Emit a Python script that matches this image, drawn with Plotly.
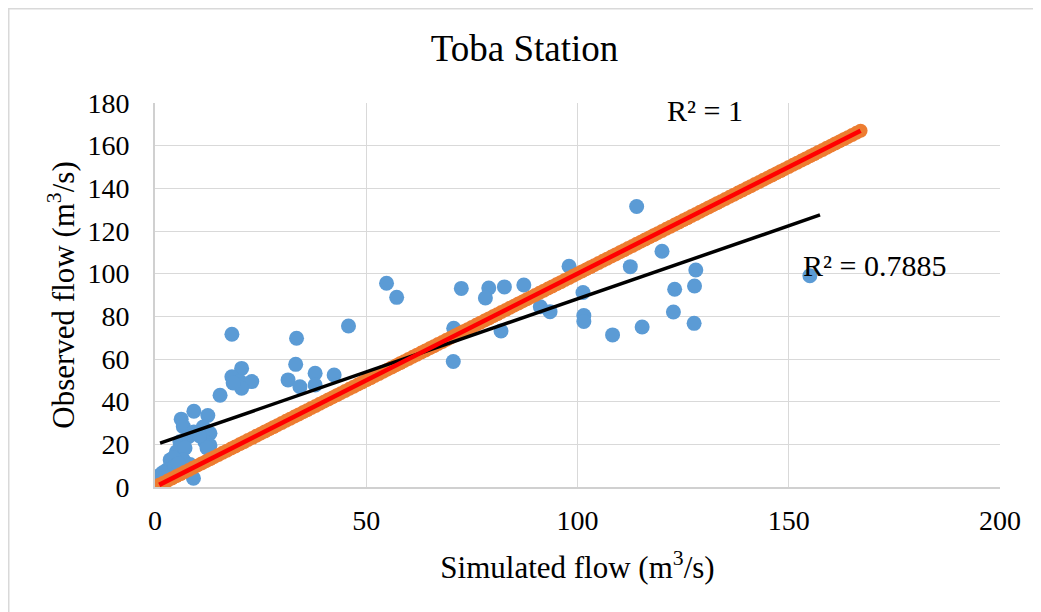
import plotly.graph_objects as go

# Simulated (x) vs observed (y) flows, m3/s
sim_flow = [155, 114, 120, 112.5, 98, 128, 123, 127.7, 101.3, 122.7,
            101.5, 101.5, 115.3, 127.6, 108.3, 93.5, 91.2, 72.5, 79, 78.2,
            82.7, 87.3, 81.9, 70.7, 70.6, 54.8, 57.2, 45.8, 33.5, 33.3,
            31.5, 34.3, 37.9, 37.9, 42.4, 18.2, 20.5, 18.2, 20.1, 22.9,
            20.5, 18.5, 15.4, 6.2, 9.2, 12.5, 13, 11.8, 13, 12.3,
            6.7, 7.9, 9.2, 11.4, 5.9, 5.1, 7.1, 6.7, 3.6, 4.3,
            2.8, 1.2, 1.9, 8.3, 4.7, 9.1, 2.4, 5.5, 10.5]
obs_flow = [99, 131.5, 110.5, 103.3, 103.5, 101.7, 92.7, 94.2, 91.2, 82,
            80.4, 77.6, 75, 76.7, 71.3, 82.2, 84.5, 93.1, 93.3, 88.6,
            93.8, 94.7, 73.1, 74.4, 58.8, 95.5, 88.9, 75.5, 69.7, 57.5,
            50.2, 47, 53.3, 47.8, 52.5, 71.6, 55.6, 51.7, 49.4, 49.4,
            46.3, 48.8, 43, 31.8, 35.5, 33.5, 25.2, 21.2, 19.5, 18.3,
            28.3, 23.6, 25.8, 28.1, 21.2, 16.5, 18.3, 12.7, 12.7, 13.6,
            8, 5.6, 6.8, 10.5, 9.8, 4.1, 4.2, 11, 24]

# 1:1 reference series (observed vs observed)
ref_flow = [1, 2, 3, 4, 5, 6, 7, 8, 9, 10, 11, 12, 13, 14, 15, 16, 17, 18, 19, 20,
            21, 22, 23, 24, 25, 26, 27, 28, 29, 30, 31, 32, 33, 34, 35, 36, 37, 38, 39, 40,
            41, 42, 43, 44, 45, 46, 47, 48, 49, 50, 51, 52, 53, 54, 55, 56, 57, 58, 59, 60,
            61, 62, 63, 64, 65, 66, 67, 68, 69, 70, 71, 72, 73, 74, 75, 76, 77, 78, 79, 80,
            81, 82, 83, 84, 85, 86, 87, 88, 89, 90, 91, 92, 93, 94, 95, 96, 97, 98, 99, 100,
            101, 102, 103, 104, 105, 106, 107, 108, 109, 110, 111, 112, 113, 114, 115, 116,
            117, 118, 119, 120, 121, 122, 123, 124, 125, 126, 127, 128, 129, 130, 131, 132,
            133, 134, 135, 136, 137, 138, 139, 140, 141, 142, 143, 144, 145, 146, 147, 148,
            149, 150, 151, 152, 153, 154, 155, 156, 157, 158, 159, 160, 161, 162, 163, 164,
            165, 166, 167]

# Linear trendline coefficients
trend_slope = 0.685
trend_intercept = 19.7
trend_x_end = 157.4
ref_slope = 1.0
ref_intercept = 0.0

x_ticks = [0, 50, 100, 150, 200]
y_ticks = [0, 20, 40, 60, 80, 100, 120, 140, 160, 180]

FONT = "Liberation Serif"

W, H = 1033, 604
L, R, T, B = 147, 41, 95, 125
PW, PH = W - L - R, H - T - B

fig = go.Figure()
fig.add_trace(go.Scatter(x=sim_flow, y=obs_flow, mode="markers",
                         marker=dict(color="#5B9BD5", size=15, line=dict(width=0)),
                         showlegend=False, hoverinfo="x+y"))
fig.add_trace(go.Scatter(x=ref_flow, y=ref_flow, mode="markers",
                         marker=dict(color="#ED7D31", size=14, line=dict(width=0)),
                         showlegend=False, hoverinfo="x+y"))

tx0 = min(sim_flow)
tx = [tx0, trend_x_end]
fig.add_trace(go.Scatter(x=tx, y=[trend_slope * v + trend_intercept for v in tx],
                         mode="lines", line=dict(color="black", width=3.5),
                         showlegend=False, hoverinfo="skip"))
rx = [min(ref_flow), max(ref_flow)]
fig.add_trace(go.Scatter(x=rx, y=[ref_slope * v + ref_intercept for v in rx],
                         mode="lines", line=dict(color="#FF0000", width=4.5),
                         showlegend=False, hoverinfo="skip"))

fig.add_annotation(x=130.2, y=176.3, text="R² = 1", showarrow=False,
                   font=dict(family=FONT, size=30, color="black"))
fig.add_annotation(x=170.4, y=104, text="R² = 0.7885", showarrow=False,
                   font=dict(family=FONT, size=30, color="black"))

# outer chart border (right and bottom edges fall outside the picture)
fig.add_shape(type="rect", xref="paper", yref="paper",
              x0=(0.75 - L) / PW, x1=(W + 30 - L) / PW,
              y0=(H - B - (H + 30)) / PH, y1=(H - B - 0.75) / PH,
              line=dict(color="#D9D9D9", width=1.5), layer="below")

fig.update_layout(
    width=W, height=H,
    margin=dict(l=L, r=R, t=T, b=B, autoexpand=False),
    paper_bgcolor="white", plot_bgcolor="white",
    title=dict(text="Toba Station", x=0.5, xanchor="center",
               y=1 - 40 / H, yanchor="middle", yref="container",
               font=dict(family=FONT, size=37, color="black")),
    font=dict(family=FONT, color="black"),
    xaxis=dict(range=[0, 200], tickvals=x_ticks, showgrid=True,
               gridcolor="#D9D9D9", gridwidth=1.3, zeroline=False,
               showline=True, linecolor="#D0D0D0", linewidth=2,
               ticks="", tickfont=dict(family=FONT, size=28, color="black"),
               ticklabelstandoff=7, automargin=False,
               title=dict(text="Simulated flow (m<sup>3</sup>/s)",
                          font=dict(family=FONT, size=31, color="black"),
                          standoff=22)),
    yaxis=dict(range=[0, 180], tickvals=y_ticks, showgrid=True,
               gridcolor="#D9D9D9", gridwidth=1.3, zeroline=False,
               showline=True, linecolor="#D0D0D0", linewidth=2,
               ticks="", tickfont=dict(family=FONT, size=28, color="black"),
               ticklabelstandoff=18, automargin=False,
               title=dict(text="Observed flow (m<sup>3</sup>/s)",
                          font=dict(family=FONT, size=31, color="black"),
                          standoff=4)),
)

fig.write_html("out.html")
